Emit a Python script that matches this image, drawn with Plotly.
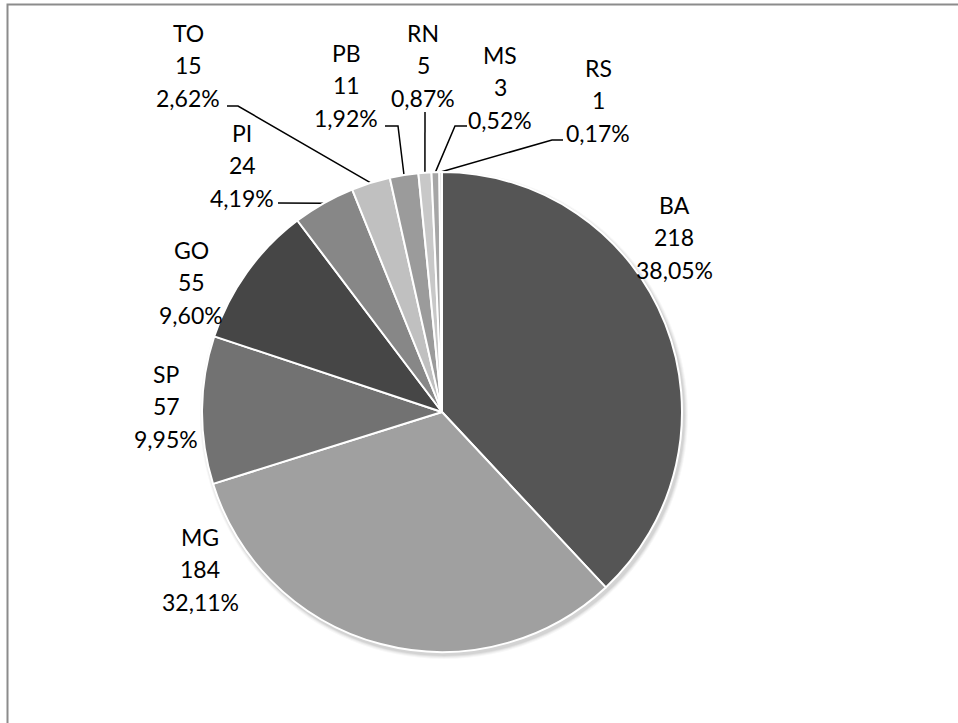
import math
import plotly.graph_objects as go

# Records per state
states = ["BA", "MG", "SP", "GO", "PI", "TO", "PB", "RN", "MS", "RS"]
counts = [218, 184, 57, 55, 24, 15, 11, 5, 3, 1]
slice_colors = ["#555555", "#a0a0a0", "#727272", "#464646", "#878787",
                "#c0c0c0", "#9b9b9b", "#c8c8c8", "#a6a6a6", "#d6d6d6"]

# Canvas and pie geometry (pixels)
W, H = 958, 723
CX, CY, R = 442, 412, 240

# Label block centres (middle line) in pixels
label_pos = {
    "BA": (674, 237), "MG": (200, 569), "SP": (166, 406), "GO": (191, 282),
    "PI": (242, 165), "TO": (188, 65), "PB": (346, 85), "RN": (423, 65),
    "MS": (500, 87), "RS": (598, 100),
}
# Leader lines: (start, elbow) in pixels; the end sits on the slice edge
leaders = {
    "PI": ((278, 203), (278, 203)),
    "TO": ((227, 106), (238, 106)),
    "PB": ((385, 126), (398, 126)),
    "RN": ((425, 112), (425, 112)),
    "MS": ((467, 126), (455, 126)),
    "RS": ((563, 140), (552, 140)),
}

LINE_GAP = 32.5
FONT = dict(family="Lato, 'Open Sans', sans-serif", size=23, color="#000000")

total = sum(counts)

fig = go.Figure()

# Soft drop shadow behind the pie
for k, a in enumerate([0.06, 0.05, 0.04, 0.03]):
    rr = R + 1 + k
    fig.add_shape(type="circle", xref="x", yref="y", layer="below",
                  x0=CX + 2 - rr, x1=CX + 2 + rr, y0=CY + 3 - rr, y1=CY + 3 + rr,
                  line=dict(width=0), fillcolor=f"rgba(0,0,0,{a})")

fig.add_trace(go.Pie(
    labels=states, values=counts, sort=False, direction="clockwise", rotation=0,
    marker=dict(colors=slice_colors, line=dict(color="#ffffff", width=2)),
    textinfo="none", hoverinfo="label+value+percent", showlegend=False,
    domain=dict(x=[(CX - R) / W, (CX + R) / W],
                y=[(H - CY - R) / H, (H - CY + R) / H]),
))

# Leader lines from labels to slice edges
cum = 0
for s, v in zip(states, counts):
    mid = (cum + v / 2) / total * 2 * math.pi
    cum += v
    if s in leaders:
        (x0, y0), (x1, y1) = leaders[s]
        ex = CX + R * math.sin(mid)
        ey = CY - R * math.cos(mid)
        fig.add_trace(go.Scatter(x=[x0, x1, ex], y=[y0, y1, ey], mode="lines",
                                 line=dict(color="#000000", width=1.5),
                                 hoverinfo="skip", showlegend=False))

# Data labels: name, count, percentage (comma decimal)
for s, v in zip(states, counts):
    pct = f"{v / total * 100:.2f}".replace(".", ",") + "%"
    x, y = label_pos[s]
    for i, t in enumerate([s, str(v), pct]):
        fig.add_annotation(x=x, y=y + (i - 1) * LINE_GAP, xref="x", yref="y",
                           text=t, showarrow=False, font=FONT,
                           xanchor="center", yanchor="middle")

# Chart frame
fig.add_shape(type="rect", xref="x", yref="y", x0=7.5, y0=4.5, x1=W + 20, y1=H + 20,
              line=dict(color="#8c8c8c", width=2), fillcolor="rgba(0,0,0,0)")

fig.update_layout(
    width=W, height=H, margin=dict(l=0, r=0, t=0, b=0),
    paper_bgcolor="#ffffff", plot_bgcolor="rgba(0,0,0,0)",
    xaxis=dict(range=[0, W], visible=False, fixedrange=True),
    yaxis=dict(range=[H, 0], visible=False, fixedrange=True),
    showlegend=False,
)

fig.write_html("out.html")
